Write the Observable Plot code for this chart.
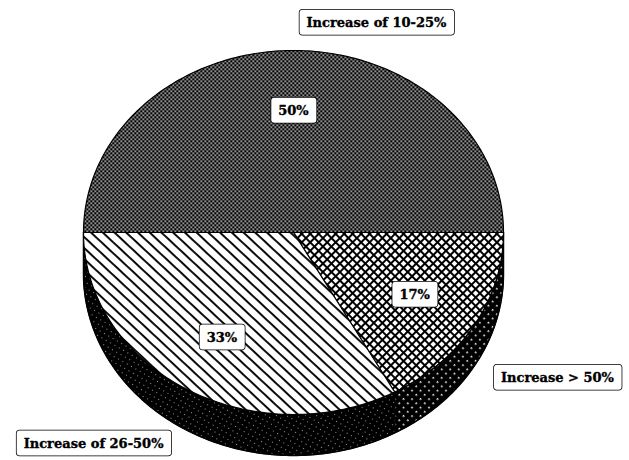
<!DOCTYPE html>
<html><head><meta charset="utf-8">
<script src="https://cdn.jsdelivr.net/npm/d3@7"></script>
<script src="https://cdn.jsdelivr.net/npm/@observablehq/plot@0.6"></script>
<style>body{margin:0;background:#fff} #chart{width:629px;height:460px}</style>
</head><body><div id="chart"></div>
<script>
// ---- data ----
const categories = ["Increase of 10-25%", "Increase > 50%", "Increase of 26-50%"];
const shares = [50, 17, 33];
const sliceLabels = ["50%", "17%", "33%"];

// ---- styling / layout ----
const topPattern = {"Increase of 10-25%": "url(#pFine)", "Increase > 50%": "url(#pDiamond)", "Increase of 26-50%": "url(#pDiag)"};
const sidePattern = {"Increase > 50%": "url(#sDiamond)", "Increase of 26-50%": "url(#sDark)"};
const calloutAt = {"Increase of 10-25%": [0.395, 1.154], "Increase > 50%": [1.257, -0.797], "Increase of 26-50%": [-0.952, -1.159]};
const DEPTH = 0.225, START = 180, LABEL_R = 0.67;
const FONT = "DejaVu Serif";

let acc = START;
const slices = categories.map((c, i) => {
  const a0 = acc, a1 = acc - shares[i] * 3.6; acc = a1;
  return {category: c, share: shares[i], label: sliceLabels[i], a0, a1, mid: (a0 + a1) / 2};
});
const rad = d => d * Math.PI / 180;
function arc(a0, a1, dy = 0) {
  const n = Math.max(2, Math.ceil(Math.abs(a1 - a0)));
  return d3.range(n + 1).map(k => { const t = rad(a0 + (a1 - a0) * k / n); return [Math.cos(t), Math.sin(t) + dy]; });
}
const topPts = slices.flatMap(s => [[0, 0], ...arc(s.a0, s.a1)].map(([x, y]) => ({category: s.category, x, y})));
const sidePts = slices.flatMap(s => {
  const hi = Math.min(s.a0, 0), lo = Math.max(s.a1, -180);
  if (hi <= lo) return [];
  return [...arc(hi, lo), ...arc(lo, hi, -DEPTH)].map(([x, y]) => ({category: s.category, x, y}));
});
const outline = [...arc(0, -180), ...arc(-180, 0, -DEPTH)].map(([x, y]) => ({x, y}));

const textStyle = {fontWeight: "bold", fontSize: 13, fontFamily: FONT, fill: "black", stroke: "black", strokeWidth: 0.35};
const chart = Plot.plot({
  width: 629, height: 460,
  x: {domain: [-1, 1], range: [83, 503], axis: null},
  y: {domain: [-1, 1], range: [414, 50], axis: null},
  color: {type: "identity"},
  marks: [
    Plot.line(sidePts, {x: "x", y: "y", z: "category", fill: d => sidePattern[d.category], stroke: "black", strokeWidth: 1, curve: "linear-closed"}),
    Plot.line(outline, {x: "x", y: "y", fill: "none", stroke: "black", strokeWidth: 1.5, curve: "linear-closed"}),
    Plot.line(topPts, {x: "x", y: "y", z: "category", fill: d => topPattern[d.category], stroke: "black", strokeWidth: 1.2, curve: "linear-closed"}),
    Plot.text(slices, {x: d => LABEL_R * Math.cos(rad(d.mid)), y: d => LABEL_R * Math.sin(rad(d.mid)), text: "label", ...textStyle}),
    Plot.text(slices, {x: d => calloutAt[d.category][0], y: d => calloutAt[d.category][1], text: "category", ...textStyle})
  ]
});
document.getElementById("chart").appendChild(chart);

// patterns
const NS = "http://www.w3.org/2000/svg";
const defs = document.createElementNS(NS, "defs");
defs.innerHTML = `
<pattern id="pFine" patternUnits="userSpaceOnUse" width="4" height="4">
  <rect width="4" height="4" fill="#000"/>
  <rect x="0" y="0" width="1.5" height="1.5" fill="#fff"/>
  <rect x="2" y="2" width="1.5" height="1.5" fill="#fff"/>
</pattern>
<pattern id="pDiag" patternUnits="userSpaceOnUse" width="8" height="8" patternTransform="rotate(43)">
  <rect width="8" height="8" fill="#fff"/>
  <rect x="0" y="3" width="8" height="1.9" fill="#000"/>
</pattern>
<pattern id="pDiamond" patternUnits="userSpaceOnUse" width="6" height="6" patternTransform="rotate(45)">
  <rect width="6" height="6" fill="#000"/>
  <rect x="1" y="1" width="4" height="4" fill="#fff"/>
</pattern>
<pattern id="sDark" patternUnits="userSpaceOnUse" width="5" height="5" patternTransform="rotate(30)">
  <rect width="5" height="5" fill="#000"/>
  <rect x="1" y="1" width="1" height="1" fill="#999"/>
</pattern>
<pattern id="sDiamond" patternUnits="userSpaceOnUse" width="6" height="6" patternTransform="rotate(45)">
  <rect width="6" height="6" fill="#000"/>
  <rect x="2" y="2" width="1.6" height="1.6" fill="#fff"/>
</pattern>`;
chart.insertBefore(defs, chart.firstChild);

// label boxes
chart.querySelectorAll('g[aria-label="text"] text').forEach(t => {
  const b = t.getBBox();
  const padX = 7, padY = 5;
  const r = document.createElementNS(NS, "rect");
  r.setAttribute("x", b.x - padX); r.setAttribute("y", b.y - padY);
  r.setAttribute("width", b.width + 2 * padX); r.setAttribute("height", b.height + 2 * padY);
  r.setAttribute("rx", 3);
  r.setAttribute("fill", "#fff"); r.setAttribute("stroke", "#000"); r.setAttribute("stroke-width", 1.5);
  if (t.getAttribute("transform")) r.setAttribute("transform", t.getAttribute("transform"));
  t.parentNode.insertBefore(r, t);
});
</script></body></html>
